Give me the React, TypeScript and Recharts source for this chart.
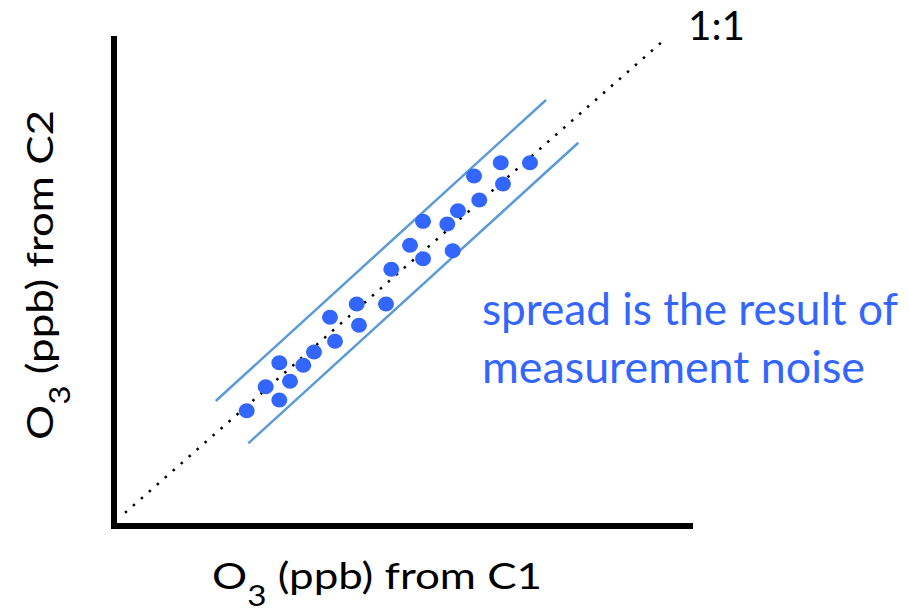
import React from 'react';
import { ScatterChart, Scatter, XAxis, YAxis, ReferenceLine, Customized } from 'recharts';

// O3 (ppb) from C1 (x) and from C2 (y) (arbitrary units)
const c1Values = [23.04, 26.34, 28.7, 28.7, 30.56, 32.86, 34.72, 37.5, 38.37, 42.14, 42.53, 47.22, 48.14, 51.39, 53.65, 53.65, 57.86, 59.72, 58.8, 63.42, 62.5, 67.53, 67.14, 72.22];
const c2Values = [22.12, 26.87, 31.62, 24.24, 27.94, 31.11, 33.74, 40.61, 35.86, 43.24, 39.03, 43.24, 50.11, 54.86, 52.21, 59.61, 59.08, 61.71, 53.79, 63.83, 68.58, 67.0, 71.21, 71.21];

const oneToOne = [1.91, 95.49];
const upperBandX = [17.66, 75.0];
const upperBandY = [24.04, 83.62];
const lowerBandX = [23.32, 80.61];
const lowerBandY = [15.67, 75.17];

const xDomain = [0, 100];
const yDomain = [-0.7, 95.7];

const oneToOneLabel = '1:1';
const noteLines = ['spread is the result of', 'measurement noise'];

const points = c1Values.map((x, i) => ({ x, y: c2Values[i] }));

const BLUE = '#3366FF';
const BAND = '#5B9BD5';
const FONT = 'Lato, "Open Sans", sans-serif';

const Dot = (props: any) => (
  <ellipse cx={props.cx} cy={props.cy} rx={8} ry={7.5} fill={BLUE} />
);

const Texts = () => (
  <g fontFamily={FONT}>
    <text x={688} y={40} fontSize={40} fill="#000" textLength={57} lengthAdjust="spacingAndGlyphs">
      {oneToOneLabel}
    </text>
    <text x={482} y={325} fontSize={44} fill={BLUE} textLength={416} lengthAdjust="spacingAndGlyphs">
      {noteLines[0]}
    </text>
    <text x={482} y={383} fontSize={44} fill={BLUE} textLength={383} lengthAdjust="spacingAndGlyphs">
      {noteLines[1]}
    </text>
    <text x={212} y={589} fontSize={37} fill="#000" textLength={330} lengthAdjust="spacingAndGlyphs">
      O<tspan fontSize={28} dy={17}>3</tspan><tspan dy={-17}> (ppb) from C1</tspan>
    </text>
    <text transform="translate(53, 440) rotate(-90)" x={0} y={0} fontSize={37} fill="#000" textLength={330} lengthAdjust="spacingAndGlyphs">
      O<tspan fontSize={28} dy={17}>3</tspan><tspan dy={-17}> (ppb) from C2</tspan>
    </text>
  </g>
);

export default function App() {
  return (
    <div style={{ position: 'absolute', left: 0, top: 0, width: 909, height: 612, background: '#fff' }}>
      <ScatterChart width={909} height={612} margin={{ top: 39, right: 219, bottom: 86, left: 114 }}>
        <XAxis type="number" dataKey="x" domain={xDomain} allowDataOverflow hide />
        <YAxis type="number" dataKey="y" domain={yDomain} allowDataOverflow hide />
        <ReferenceLine
          segment={[{ x: xDomain[0], y: yDomain[0] }, { x: xDomain[0], y: yDomain[1] }]}
          stroke="#000"
          strokeWidth={6}
          strokeLinecap="square"
          ifOverflow="visible"
        />
        <ReferenceLine
          segment={[{ x: xDomain[0], y: yDomain[0] }, { x: xDomain[1], y: yDomain[0] }]}
          stroke="#000"
          strokeWidth={6}
          strokeLinecap="square"
          ifOverflow="visible"
        />
        <ReferenceLine
          segment={[{ x: oneToOne[0], y: oneToOne[0] }, { x: oneToOne[1], y: oneToOne[1] }]}
          stroke="#000"
          strokeWidth={2.5}
          strokeDasharray="2.5 8.1"
          ifOverflow="visible"
        />
        <ReferenceLine
          segment={[{ x: upperBandX[0], y: upperBandY[0] }, { x: upperBandX[1], y: upperBandY[1] }]}
          stroke={BAND}
          strokeWidth={2.5}
          ifOverflow="visible"
        />
        <ReferenceLine
          segment={[{ x: lowerBandX[0], y: lowerBandY[0] }, { x: lowerBandX[1], y: lowerBandY[1] }]}
          stroke={BAND}
          strokeWidth={2.5}
          ifOverflow="visible"
        />
        <Scatter data={points} shape={Dot} isAnimationActive={false} />
        <Customized component={Texts} />
      </ScatterChart>
    </div>
  );
}
